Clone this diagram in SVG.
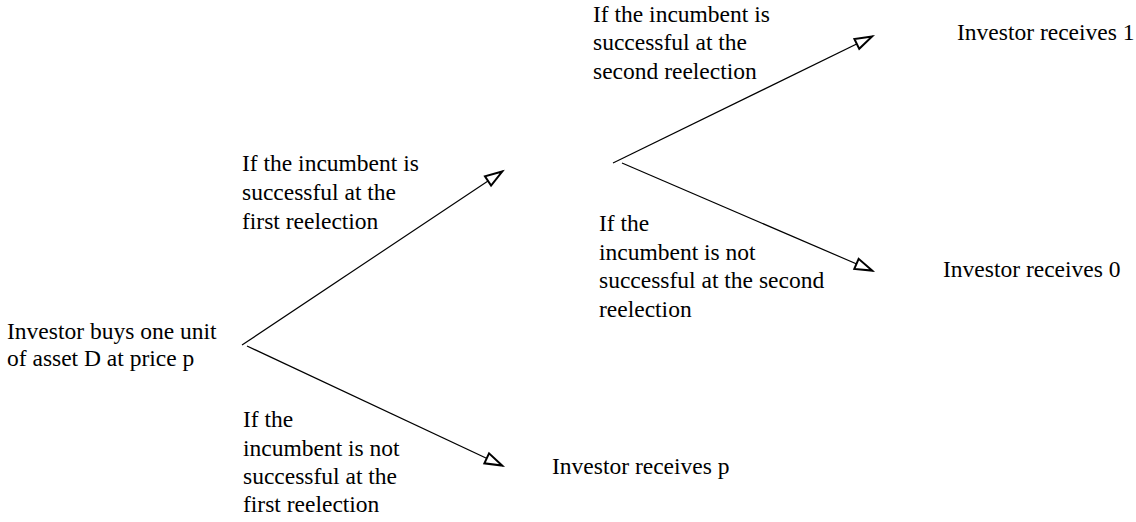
<svg xmlns="http://www.w3.org/2000/svg" width="1136" height="522" viewBox="0 0 1136 522">
<style>
.lbl{font-family:'Liberation Serif','Times New Roman','DejaVu Serif',serif;font-size:23.5px;fill:#000}
.edge{stroke:#000;stroke-width:1.2;fill:none}
</style>
<defs>
<marker id="arr" markerUnits="userSpaceOnUse" viewBox="-22 -9 24 18" refX="0" refY="0" markerWidth="24" markerHeight="18" orient="auto" overflow="visible">
<path d="M-1,0 L-18,-5.5 L-18,5.5 Z" fill="#fff" stroke="#000" stroke-width="2" stroke-linejoin="miter"/>
</marker>
</defs>
<rect width="1136" height="522" fill="#fff"/>
<g id="connectors">
<line class="edge" x1="242" y1="345" x2="503" y2="171" marker-end="url(#arr)"/>
<line class="edge" x1="247" y1="346" x2="503" y2="466" marker-end="url(#arr)"/>
<line class="edge" x1="613" y1="163" x2="873" y2="36" marker-end="url(#arr)"/>
<line class="edge" x1="622" y1="163" x2="873" y2="271" marker-end="url(#arr)"/>
</g>
<g class="lbl" font-family="Liberation Serif, Times New Roman, serif">
<g id="start">
<text x="7" y="339">Investor buys one unit</text>
<text x="7" y="366">of asset D at price p</text>
</g>
<g id="label-first-success">
<text x="242" y="171">If the incumbent is</text>
<text x="242" y="200">successful at the</text>
<text x="242" y="229">first reelection</text>
</g>
<g id="label-first-fail">
<text x="243" y="427">If the</text>
<text x="243" y="456">incumbent is not</text>
<text x="243" y="484">successful at the</text>
<text x="243" y="512">first reelection</text>
</g>
<g id="label-second-success">
<text x="593" y="22">If the incumbent is</text>
<text x="593" y="50">successful at the</text>
<text x="593" y="79">second reelection</text>
</g>
<g id="label-second-fail">
<text x="599" y="231">If the</text>
<text x="599" y="260">incumbent is not</text>
<text x="599" y="288">successful at the second</text>
<text x="599" y="317">reelection</text>
</g>
<g id="receives-1"><text x="957" y="40">Investor receives 1</text></g>
<g id="receives-0"><text x="943" y="277">Investor receives 0</text></g>
<g id="receives-p"><text x="552" y="474">Investor receives p</text></g>
</g>
</svg>
